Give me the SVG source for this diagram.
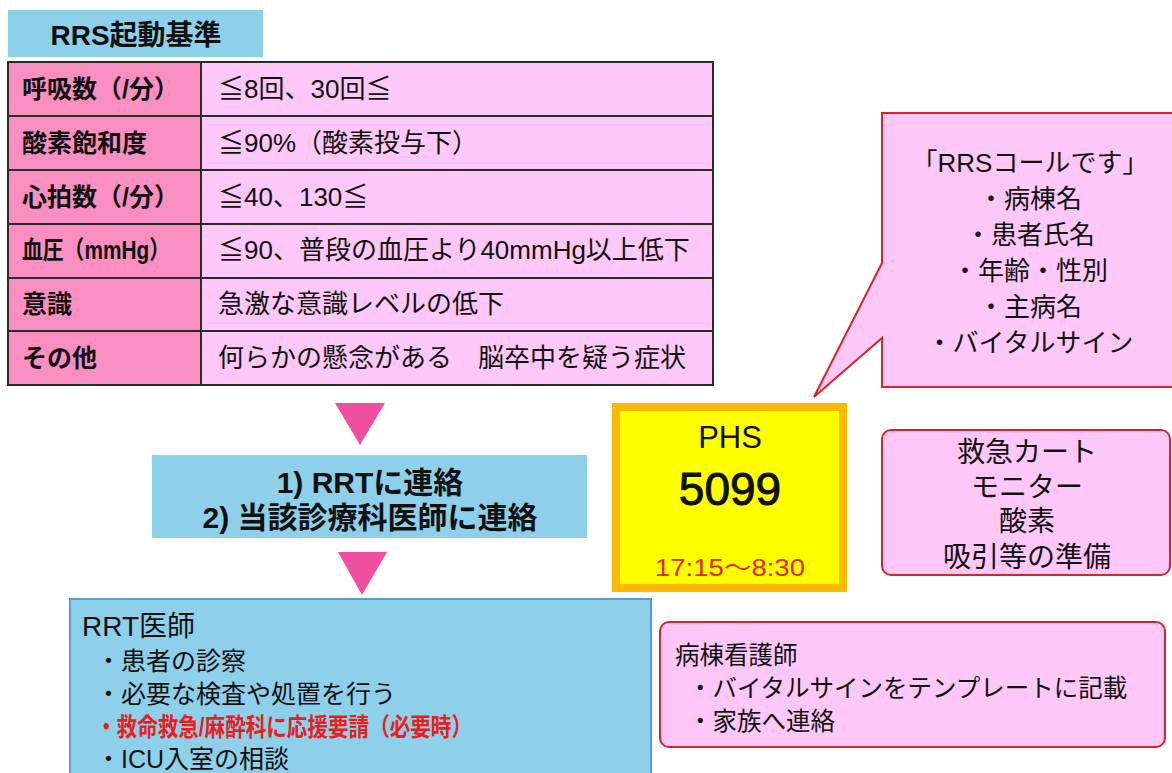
<svg xmlns="http://www.w3.org/2000/svg" width="1172" height="773" viewBox="0 0 1172 773">
<style>
text{font-family:"Liberation Sans","Noto Sans CJK JP",sans-serif;fill:#111;}
.hd{font-size:25px;font-weight:bold;}
.cv{font-size:26px;}
.c1{fill:#F98EC0;stroke:#2a2a2a;stroke-width:2;}
.c2{fill:#FDC8F8;stroke:#2a2a2a;stroke-width:2;}
.blue{fill:#8ECFEA;}
.pinkbox{fill:#FDC8F8;stroke:#D8232A;stroke-width:2;}
.tri{fill:#EF4F9E;}
.mid{text-anchor:middle;}
.bub{font-size:26px;text-anchor:middle;}
.cart{font-size:28px;text-anchor:middle;}
.doc{font-size:25px;}
.nur{font-size:24.5px;}
</style>
<rect width="1172" height="773" fill="#ffffff"/>

<g id="title">
<rect class="blue" x="8" y="10" width="255" height="47"/>
<text x="136" y="45" class="mid" style="font-size:28px;font-weight:bold">RRS起動基準</text>
</g>

<g id="criteria-table">
<rect class="c1" x="8" y="62" width="193" height="54"/><rect class="c2" x="201" y="62" width="512" height="54"/>
<rect class="c1" x="8" y="116" width="193" height="54"/><rect class="c2" x="201" y="116" width="512" height="54"/>
<rect class="c1" x="8" y="170" width="193" height="54"/><rect class="c2" x="201" y="170" width="512" height="54"/>
<rect class="c1" x="8" y="224" width="193" height="54"/><rect class="c2" x="201" y="224" width="512" height="54"/>
<rect class="c1" x="8" y="278" width="193" height="53"/><rect class="c2" x="201" y="278" width="512" height="53"/>
<rect class="c1" x="8" y="331" width="193" height="54"/><rect class="c2" x="201" y="331" width="512" height="54"/>
<text class="hd" x="22" y="98">呼吸数（/分）</text>
<text class="cv" x="218" y="98">≦8回、30回≦</text>
<text class="hd" x="22" y="152">酸素飽和度</text>
<text class="cv" x="218" y="152">≦90%（酸素投与下）</text>
<text class="hd" x="22" y="206">心拍数（/分）</text>
<text class="cv" x="218" y="206">≦40、130≦</text>
<text class="hd" x="22" y="259" textLength="148" lengthAdjust="spacingAndGlyphs">血圧（mmHg）</text>
<text class="cv" x="218" y="259">≦90、普段の血圧より40mmHg以上低下</text>
<text class="hd" x="22" y="313">意識</text>
<text class="cv" x="218" y="313">急激な意識レベルの低下</text>
<text class="hd" x="22" y="367">その他</text>
<text class="cv" x="218" y="367">何らかの懸念がある　脳卒中を疑う症状</text>
</g>

<g id="connectors">
<polygon class="tri" points="335,403 385,403 360,445"/>
<polygon class="tri" points="338,552 387,552 362,595"/>
</g>

<g id="contact">
<rect class="blue" x="152" y="455" width="435" height="83"/>
<text x="370" y="493" class="mid" style="font-size:30px;font-weight:bold">1) RRTに連絡</text>
<text x="370" y="528" class="mid" style="font-size:30px;font-weight:bold">2) 当該診療科医師に連絡</text>
</g>

<g id="rrt-doctor">
<rect x="70" y="599" width="581" height="200" fill="#8ECFEA" stroke="#5B9BD5" stroke-width="2"/>
<text x="82" y="636" style="font-size:28px">RRT医師</text>
<text class="doc" x="96" y="670">・患者の診察</text>
<text class="doc" x="96" y="703">・必要な検査や処置を行う</text>
<text class="doc" x="96" y="736" textLength="376" lengthAdjust="spacingAndGlyphs" style="font-weight:bold;fill:#E8201C">・救命救急/麻酔科に応援要請（必要時）</text>
<text class="doc" x="96" y="768">・ICU入室の相談</text>
</g>

<g id="phs">
<rect x="616" y="407" width="227" height="181" fill="#FFFF00" stroke="#FBBA00" stroke-width="8"/>
<text x="730" y="448" class="mid" style="font-size:31px">PHS</text>
<text x="730" y="505" class="mid" style="font-size:46px;stroke:#111;stroke-width:1">5099</text>
<text x="655" y="576" textLength="150" lengthAdjust="spacingAndGlyphs" style="font-size:24px;fill:#E8230F">17:15〜8:30</text>
</g>

<g id="call-bubble">
<path class="pinkbox" d="M882,113 H1176 V387 H882 V338 L814,397 L882,263 Z"/>
<text class="bub" x="1030" y="172">「RRSコールです」</text>
<text class="bub" x="1030" y="208">・病棟名</text>
<text class="bub" x="1030" y="244">・患者氏名</text>
<text class="bub" x="1030" y="280">・年齢・性別</text>
<text class="bub" x="1030" y="316">・主病名</text>
<text class="bub" x="1030" y="352">・バイタルサイン</text>
</g>

<g id="preparation">
<rect class="pinkbox" x="882" y="430" width="288" height="145" rx="9"/>
<text class="cart" x="1027" y="462">救急カート</text>
<text class="cart" x="1027" y="497">モニター</text>
<text class="cart" x="1027" y="531">酸素</text>
<text class="cart" x="1027" y="567">吸引等の準備</text>
</g>

<g id="ward-nurse">
<rect class="pinkbox" x="660" y="622" width="505" height="125" rx="9"/>
<text class="nur" x="675" y="664">病棟看護師</text>
<text class="nur" x="688" y="697">・バイタルサインをテンプレートに記載</text>
<text class="nur" x="688" y="730">・家族へ連絡</text>
</g>
</svg>
